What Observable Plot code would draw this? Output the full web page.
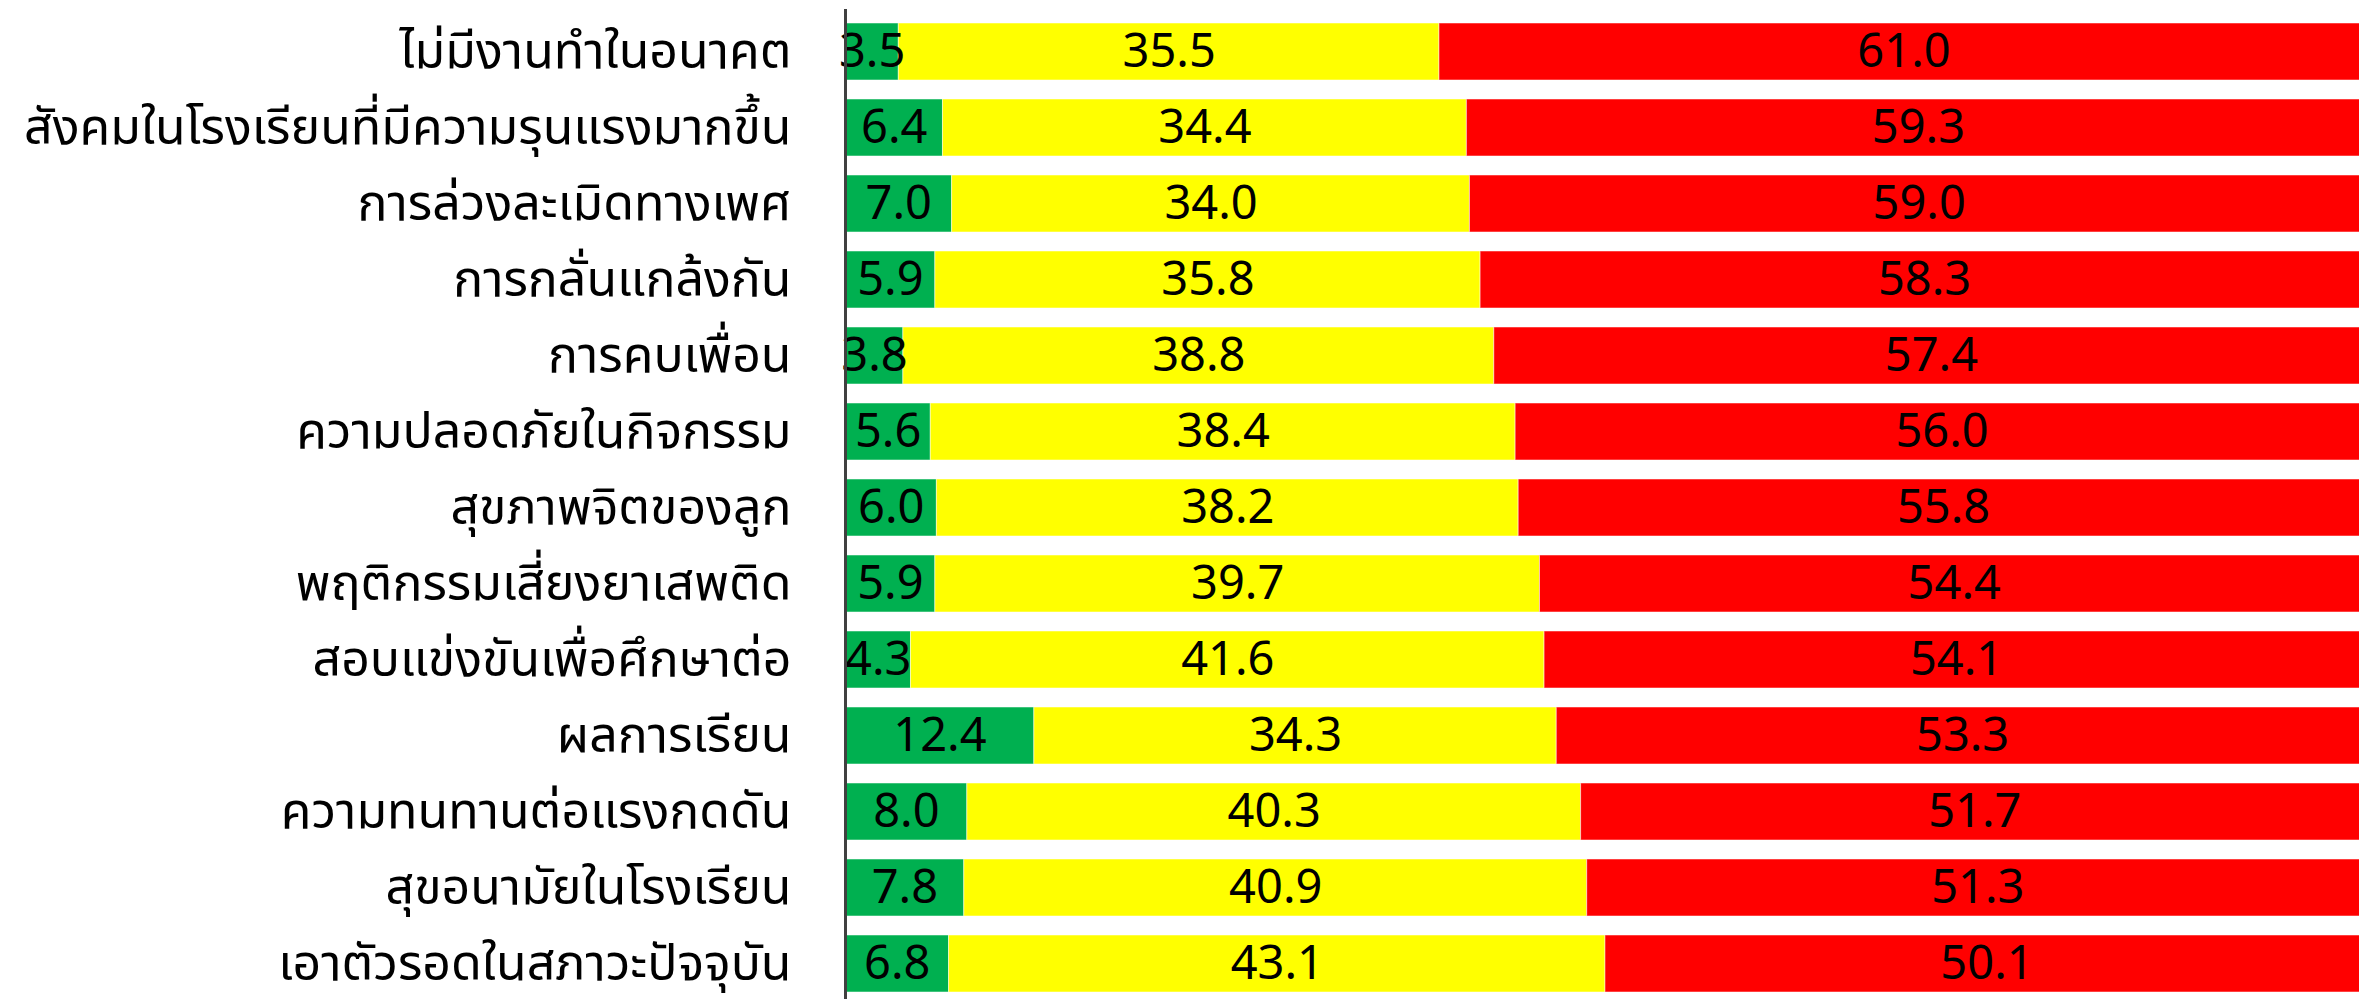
<!DOCTYPE html>
<html><head><meta charset="utf-8">
<script src="https://cdn.jsdelivr.net/npm/d3@7"></script>
<script src="https://cdn.jsdelivr.net/npm/@observablehq/plot@0.6"></script>
<style>body{margin:0;background:#fff;overflow:hidden}</style>
</head><body><div id="chart"></div>
<script>
const categories = [
  "ไม่มีงานทำในอนาคต",
  "สังคมในโรงเรียนที่มีความรุนแรงมากขึ้น",
  "การล่วงละเมิดทางเพศ",
  "การกลั่นแกล้งกัน",
  "การคบเพื่อน",
  "ความปลอดภัยในกิจกรรม",
  "สุขภาพจิตของลูก",
  "พฤติกรรมเสี่ยงยาเสพติด",
  "สอบแข่งขันเพื่อศึกษาต่อ",
  "ผลการเรียน",
  "ความทนทานต่อแรงกดดัน",
  "สุขอนามัยในโรงเรียน",
  "เอาตัวรอดในสภาวะปัจจุบัน"
];
const lowValues  = [3.5, 6.4, 7.0, 5.9, 3.8, 5.6, 6.0, 5.9, 4.3, 12.4, 8.0, 7.8, 6.8];
const midValues  = [35.5, 34.4, 34.0, 35.8, 38.8, 38.4, 38.2, 39.7, 41.6, 34.3, 40.3, 40.9, 43.1];
const highValues = [61.0, 59.3, 59.0, 58.3, 57.4, 56.0, 55.8, 54.4, 54.1, 53.3, 51.7, 51.3, 50.1];
const levels = ["low", "mid", "high"];
const levelColors = ["#00B050", "#FFFF00", "#FF0000"];

const series = [lowValues, midValues, highValues];
const data = [];
categories.forEach((c, i) => {
  levels.forEach((lv, j) => data.push({category: c, level: lv, value: series[j][i]}));
});

const FONT = "'Noto Sans', 'Noto Sans Thai', sans-serif";

const chart = Plot.plot({
  width: 2359,
  height: 999,
  marginLeft: 845,
  marginRight: 0,
  marginTop: 15,
  marginBottom: 0,
  style: {fontFamily: FONT, background: "#fff"},
  x: {domain: [0, 100], range: [845, 2368], axis: null},
  y: {domain: categories, paddingInner: 0.256, paddingOuter: 0.05, axis: null},
  color: {domain: levels, range: levelColors, type: "ordinal"},
  marks: [
    Plot.barX(data, Plot.stackX({x: "value", y: "category", fill: "level", order: null,
      stroke: "white", strokeWidth: 1, strokeOpacity: 0.5})),
    Plot.text(data, Plot.stackX({x: "value", y: "category", z: "level", order: null,
      text: d => d.value.toFixed(1), fill: "black", fontSize: 47, fontFamily: FONT})),
    Plot.axisY({tickSize: 0, tickPadding: 54, fontSize: 50, fontFamily: FONT, fill: "black", label: null}),
    Plot.ruleX([0], {stroke: "#404040", strokeWidth: 3, insetTop: -6})
  ]
});
document.getElementById("chart").appendChild(chart);
</script>
</body></html>
